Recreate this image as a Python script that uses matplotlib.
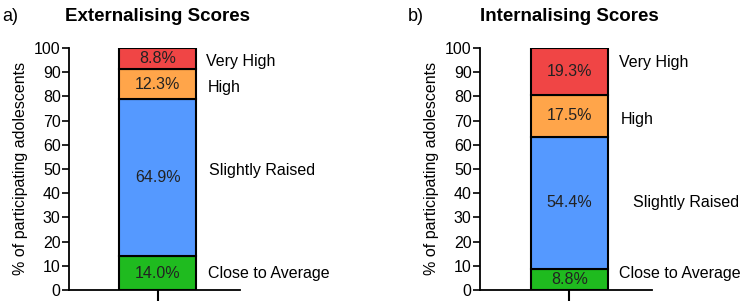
import matplotlib.pyplot as plt

plt.rcParams['font.family'] = ['Liberation Sans', 'DejaVu Sans']

categories = ['Close to Average', 'Slightly Raised', 'High', 'Very High']
colors = ['#1fbb1f', '#5599ff', '#ffa54a', '#f04545']

ext_values = [14.0, 64.9, 12.3, 8.8]
int_values = [8.8, 54.4, 17.5, 19.3]

# vertical spot for the category names right of each bar
ext_label_y = [6.6, 49.2, 83.5, 94.2]
int_label_y = [6.6, 36.0, 70.6, 94.0]
ext_label_x = [0.29, 0.30, 0.29, 0.28]
int_label_x = [0.29, 0.37, 0.30, 0.29]

panels = [
    ('a)', 'Externalising Scores', ext_values, ext_label_y, ext_label_x, [0.092, 0.043, 0.228, 0.799]),
    ('b)', 'Internalising Scores', int_values, int_label_y, int_label_x, [0.640, 0.043, 0.229, 0.799]),
]

fig = plt.figure(figsize=(7.5, 3.03), dpi=100)

for letter, title, values, label_y, label_x, rect in panels:
    ax = fig.add_axes(rect)
    bottom = 0
    for val, col, cat, ly, lx in zip(values, colors, categories, label_y, label_x):
        ax.bar(0, val, width=0.45, bottom=bottom, color=col,
               edgecolor='black', linewidth=1.5)
        ax.text(0, bottom + val / 2, f'{val:.1f}%', ha='center', va='center',
                fontsize=11.5, color='#222222')
        ax.text(lx, ly, cat, ha='left', va='center', fontsize=11.5)
        bottom += val

    ax.set_xlim(-0.52, 0.48)
    ax.set_ylim(0, 100)
    ax.set_yticks(range(0, 101, 10))
    ax.set_xticks([0])
    ax.set_xticklabels([''])
    ax.tick_params(axis='y', length=5, width=1.2, labelsize=11.5, pad=1)
    ax.tick_params(axis='x', length=8, width=1.5)
    for s in ['top', 'right']:
        ax.spines[s].set_visible(False)
    for s in ['left', 'bottom']:
        ax.spines[s].set_linewidth(1.3)
    ax.set_ylabel('% of participating adolescents', fontsize=11.5, labelpad=4)

    x0 = rect[0]
    fig.text(x0 - 0.089 if letter == 'a)' else x0 - 0.096, 0.945, letter,
             fontsize=13, va='center', ha='left')
    fig.text(x0 + rect[2] * 0.52, 0.945, title, fontsize=13.5,
             fontweight='bold', va='center', ha='center')

fig.savefig('out.png', dpi=100)
